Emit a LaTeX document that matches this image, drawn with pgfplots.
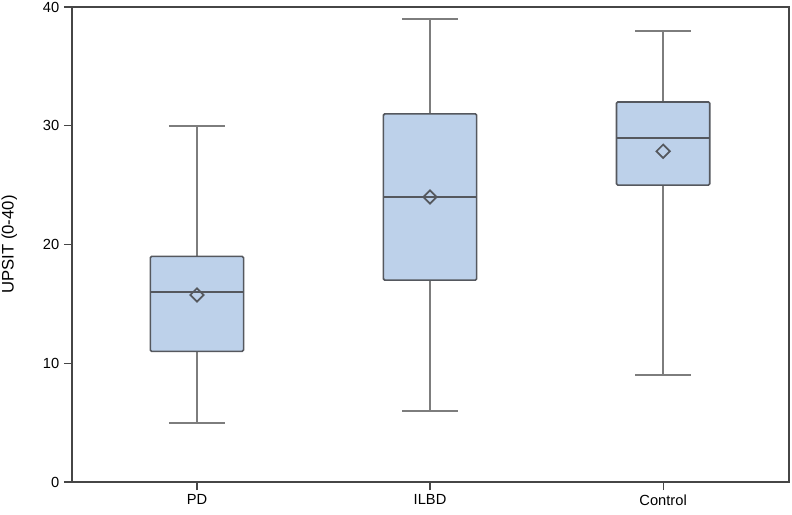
\documentclass[border=0pt]{standalone}
\usepackage{pgfplots}
\pgfplotsset{compat=1.18}
\usepgfplotslibrary{statistics}
\usetikzlibrary{plotmarks}
\usepackage{fontspec}
\setmainfont{Liberation Sans}
\definecolor{boxfill}{RGB}{189,209,234}
\definecolor{boxedge}{RGB}{85,88,94}
\definecolor{whisk}{RGB}{125,125,125}
\definecolor{axcol}{RGB}{70,70,70}
\pgfdeclareplotmark{meandiamond}{%
  \pgfpathmoveto{\pgfqpoint{0pt}{\pgfplotmarksize}}%
  \pgfpathlineto{\pgfqpoint{\pgfplotmarksize}{0pt}}%
  \pgfpathlineto{\pgfqpoint{0pt}{-\pgfplotmarksize}}%
  \pgfpathlineto{\pgfqpoint{-\pgfplotmarksize}{0pt}}%
  \pgfpathclose
  \pgfusepathqstroke
}
\begin{document}
\begin{tikzpicture}
\path[use as bounding box] (-54pt,-24pt) rectangle (540pt,361.5pt);
\begin{axis}[
  scale only axis, width=537.75pt, height=356.25pt,
  at={(0,0)}, anchor=south west,
  xmin=0.464, xmax=3.54, ymin=0, ymax=40,
  xtick={1,2,3}, xticklabels={PD,ILBD,Control},
  ytick={0,10,20,30,40},
  tick align=outside, tick pos=left, major tick length=6pt,
  axis line style={draw=axcol, line width=1.2pt},
  tick style={draw=axcol, line width=0.9pt},
  /pgf/number format/assume math mode=true,
  ticklabel style={font=\fontsize{11}{13}\selectfont},
  ylabel={UPSIT (0-40)},
  ylabel style={font=\fontsize{12.5}{15}\selectfont, at={(axis description cs:-0.0874,0.5)}, anchor=center},
  boxplot/draw direction=y,
  boxplot/box extend=0.4,
  boxplot/whisker extend=0.24,
  boxplot/every box/.style={draw=boxedge, fill=boxfill, line width=1.2pt, rounded corners=1pt},
  boxplot/every median/.style={draw=boxedge, line width=1.4pt},
  boxplot/every whisker/.style={draw=whisk, line width=1.4pt},
]
\addplot+[boxplot prepared={lower whisker=5, lower quartile=11, median=16, upper quartile=19, upper whisker=30, draw position=1}, draw=boxedge, mark=none] coordinates {};
\addplot+[boxplot prepared={lower whisker=6, lower quartile=17, median=24, upper quartile=31, upper whisker=39, draw position=2}, draw=boxedge, mark=none] coordinates {};
\addplot+[boxplot prepared={lower whisker=9, lower quartile=25, median=29, upper quartile=32, upper whisker=38, draw position=3}, draw=boxedge, mark=none] coordinates {};
\addplot[only marks, mark=meandiamond, mark size=5pt, draw=boxedge, line width=1.3pt] coordinates {(1,15.75) (2,24.0) (3,27.85)};
\end{axis}
\end{tikzpicture}
\end{document}
